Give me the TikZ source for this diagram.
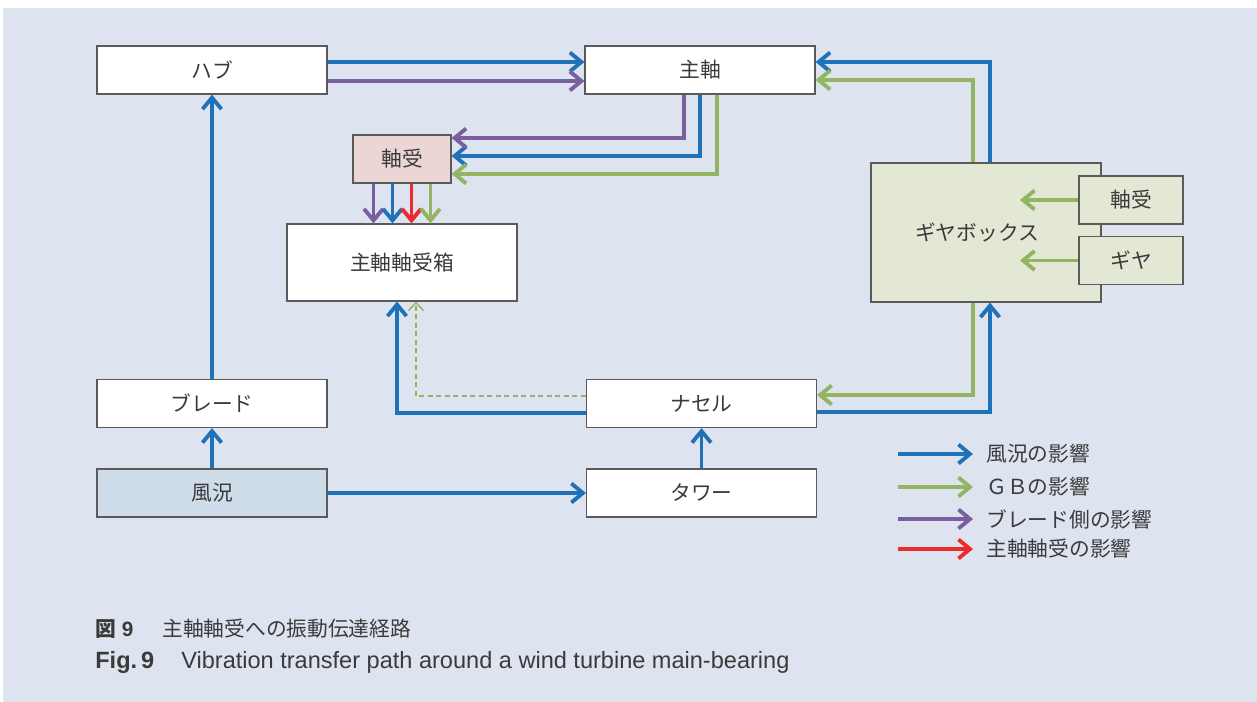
\documentclass[tikz,border=0pt]{standalone}
\usepackage{fontspec}
\setmainfont{Noto Sans CJK JP}
\newfontfamily\latinfont{Liberation Sans}
\usepackage{xcolor}
\usetikzlibrary{positioning, calc, arrows.meta}

\definecolor{bgblue}{HTML}{DDE4EF}
\definecolor{windblue}{HTML}{1F72B8}
\definecolor{gbgreen}{HTML}{93B462}
\definecolor{bladepurple}{HTML}{7A5FA0}
\definecolor{bearred}{HTML}{EE2B2B}
\definecolor{boxgray}{HTML}{5A5A5A}
\definecolor{txtgray}{HTML}{3A3A3A}
\definecolor{pinkfill}{HTML}{ECD5D5}
\definecolor{gbfill}{HTML}{E2E8D4}
\definecolor{windfill}{HTML}{CFDDEA}

\tikzset{
    blk/.style={draw=boxgray, line width=0.7pt, fill=white, text=txtgray, inner sep=0pt,
        minimum width=4.6cm, minimum height=0.96cm, font=\fontsize{11.8}{13}\selectfont},
    flow/.style={->, line width=2.2pt},
    hint/.style={->, line width=0.8pt, dash pattern=on 1mm off 0.7mm,
        >={Straight Barb[length=1.6mm,width=3mm]}},
    legtext/.style={anchor=west, inner xsep=0.26cm, inner ysep=0pt, text=txtgray,
        font=\fontsize{11.8}{13}\selectfont},
    captext/.style={anchor=base west, inner sep=0pt, text=txtgray, font=\fontsize{11.8}{14}\selectfont}
}

\begin{document}
\begin{tikzpicture}[x=0.02cm, y=-0.02cm, >={Straight Barb[length=2.3mm,width=3.8mm]}]

    % --- Frame ---
    \fill[white] (0,0) rectangle (1257,702);
    \fill[bgblue] (3,8) rectangle (1257,702);
    \useasboundingbox (0,0) rectangle (1257,702);

    % --- Boxes ---
    \node[blk] (hub) at (212,70) {ハブ};
    \node[blk] (shaft) at (700,70) {主軸};
    \node[blk, fill=pinkfill, minimum width=1.96cm] (brg) at (402,159) {軸受};
    \node[blk, minimum height=1.54cm] (housing) at (402,262.5) {主軸軸受箱};
    \node[blk, fill=gbfill, minimum height=2.78cm] (gbox) at (986,232.5) {ギヤボックス\hspace*{0.36cm}};
    \node[blk, fill=gbfill, minimum width=2.08cm] (gbrg) at (1131,200) {軸受};
    \node[blk, fill=gbfill, minimum width=2.08cm] (gear) at (1131,260.5) {ギヤ};
    \node[blk] (blade) at (212,403.5) {ブレード};
    \node[blk, fill=windfill] (wind) at (212,493) {風況};
    \node[blk] (nacelle) at (701.5,403.5) {ナセル};
    \node[blk] (tower) at (701.5,493) {タワー};

    % --- Wind paths (blue) ---
    \draw[flow, windblue] (wind.north) -- (blade.south);
    \draw[flow, windblue] (blade.north) -- (hub.south);
    \draw[flow, windblue] (wind.east) -- (tower.west);
    \draw[flow, windblue] (tower.north) -- (nacelle.south);
    \draw[flow, windblue] ($(hub.east)+(0,-8)$) -- ($(shaft.west)+(0,-8)$);
    \draw[flow, windblue] (shaft.south) |- ($(brg.east)+(0,-3)$);
    \draw[flow, windblue] ($(nacelle.west)+(0,9.5)$) -| ($(housing.south)+(-5,0)$);
    \draw[flow, windblue] ($(nacelle.east)+(0,8.5)$) -| ($(gbox.south)+(4,0)$);
    \draw[flow, windblue] ($(gbox.north)+(4,0)$) |- ($(shaft.east)+(0,-8)$);

    % --- Blade paths (purple) ---
    \draw[flow, bladepurple] ($(hub.east)+(0,11)$) -- ($(shaft.west)+(0,11)$);
    \draw[flow, bladepurple] ($(shaft.south)+(-16,0)$) |- ($(brg.east)+(0,-21)$);

    % --- Gearbox paths (green) ---
    \draw[flow, gbgreen] ($(gbox.north)+(-13,0)$) |- ($(shaft.east)+(0,10)$);
    \draw[flow, gbgreen] ($(gbox.south)+(-13,0)$) |- ($(nacelle.east)+(0,-8.5)$);
    \draw[flow, gbgreen] ($(shaft.south)+(17,0)$) |- ($(brg.east)+(0,15)$);
    \draw[hint, gbgreen] ($(nacelle.west)+(0,-7.5)$) -| ($(housing.south)+(14,0)$);
    \coordinate (gbrgin) at (1020,200);
    \coordinate (gearin) at (1020,260.5);
    \draw[flow, gbgreen] (gbrg.west) -- (gbrgin);
    \draw[flow, gbgreen] (gear.west) -- (gearin);

    % --- Bearing to housing ---
    \foreach \dx/\col in {-28.5/bladepurple, -9.5/windblue, 9.5/bearred, 28.5/gbgreen} {
        \draw[flow, \col] ($(brg.south)+(\dx,0)$) -- ($(housing.north)+(\dx,0)$);
    }

    % --- Legend ---
    \foreach \y/\col/\txt in {454/windblue/風況の影響, 487/gbgreen/ＧＢの影響,
                              519/bladepurple/ブレード側の影響, 549/bearred/主軸軸受の影響} {
        \coordinate (key\y) at (898,\y);
        \node[legtext] (leg\y) at (973,\y) {\txt};
        \draw[flow, \col] (key\y) -- (leg\y.west);
    }

    % --- Caption ---
    \node[captext] (fignum) at (95,636) {\bfseries 図{\latinfont\;9}};
    \node[captext] (capjp) at (162,636) {主軸軸受への振動伝達経路};
    \node[captext, font=\latinfont\fontsize{13.4}{15}\selectfont] (fignumen) at (95,668) {\bfseries Fig.\,9};
    \node[captext, font=\latinfont\fontsize{13.4}{15}\selectfont] (capen) at (181,668)
        {Vibration transfer path around a wind turbine main-bearing};

\end{tikzpicture}
\end{document}
